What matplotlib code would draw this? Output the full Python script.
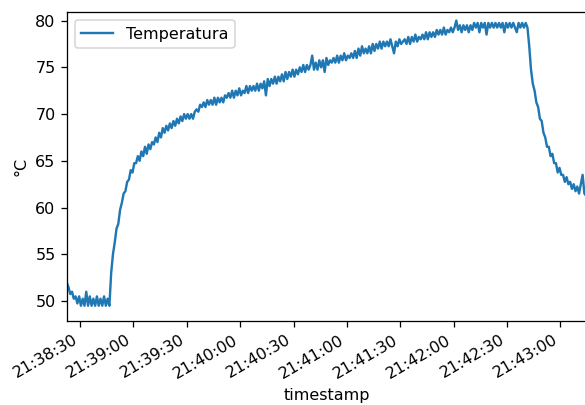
import numpy as np
import pandas as pd
import matplotlib
matplotlib.use("Agg")
import matplotlib.pyplot as plt
import matplotlib.dates as mdates

# temperature readings, one per second starting at 21:38:22.5
start = "2021-01-01 21:38:22.5"
temperatura = [
    # 0-24 idle
    52.0, 51.5, 50.75, 51.0, 50.25, 50.5, 49.75, 50.5, 49.5, 50.25,
    49.5, 51.0, 49.5, 50.5, 49.5, 50.25, 49.5, 50.5, 49.5, 50.25,
    49.5, 50.5, 49.5, 50.25, 49.5,
    # 25-80 heating
    53.0, 55.0, 56.25, 57.75, 58.25,
    59.75, 60.5, 61.5, 61.75, 62.75, 63.0, 64.0, 63.75, 64.75, 64.75,
    65.5, 65.0, 66.0, 65.5, 66.5, 65.75, 66.75, 66.25, 67.0, 66.75,
    67.5, 67.0, 68.0, 67.5, 68.5, 68.0, 68.75, 68.25, 69.0, 68.5,
    69.25, 68.75, 69.5, 69.0, 69.75, 69.25, 70.0, 69.5, 70.0, 69.5,
    70.0, 69.5, 70.25, 70.5, 70.25, 71.0, 70.75, 71.25, 70.75, 71.5, 71.0,
    # 81-259 slow rise / plateau
    71.5, 71.0, 71.75, 71.0, 71.75, 71.25, 71.75, 71.25, 72.0,
    71.75, 72.25, 71.75, 72.5, 71.75, 72.5, 72.0, 72.75, 72.0, 72.5,
    72.25, 73.0, 72.25, 73.0, 72.5, 73.0, 72.5, 73.25, 72.5, 73.25,
    72.75, 73.5, 72.0, 73.75, 73.0, 73.75, 73.25, 74.0, 73.25, 74.0,
    73.5, 74.25, 73.5, 74.5, 73.75, 74.5, 74.0, 74.75, 74.0, 74.75,
    74.25, 75.0, 74.5, 75.25, 74.5, 75.25, 74.75, 75.25, 76.25, 74.75,
    75.5, 74.75, 75.75, 75.0, 75.75, 74.5, 76.0, 75.25, 75.75, 75.5,
    76.0, 75.5, 76.25, 75.5, 76.25, 75.75, 76.5, 75.75, 76.25, 76.0,
    76.5, 76.0, 76.75, 76.0, 77.0, 76.25, 77.25, 76.5, 77.0, 76.5,
    77.25, 76.5, 77.5, 76.75, 77.5, 77.0, 77.75, 77.0, 77.75, 77.25,
    77.75, 77.25, 78.0, 77.25, 76.5, 77.75, 77.25, 78.0, 77.5, 77.75,
    78.0, 77.5, 78.25, 77.5, 78.25, 77.75, 78.5, 77.75, 78.25, 78.0,
    78.5, 78.0, 78.75, 78.0, 78.75, 78.25, 78.75, 78.25, 79.0, 78.5,
    79.0, 78.5, 79.25, 78.5, 79.0, 78.75, 79.25, 78.75, 79.25, 80.0,
    79.0, 79.5, 78.75, 79.5, 79.0, 79.5, 78.75, 79.5, 79.0, 79.75,
    79.25, 79.75, 78.75, 79.75, 79.25, 79.75, 78.5, 79.75, 79.25, 79.75,
    79.25, 79.75, 79.25, 79.75, 79.25, 79.75, 78.75, 79.75, 79.25, 79.75,
    79.25, 79.75, 79.25, 78.75, 79.75, 79.25, 79.75, 79.25, 79.75, 79.25,
    # 260-292 cooling
    77.25, 74.75, 73.25, 72.5, 71.25, 70.75, 69.5, 69.25, 68.0, 67.5,
    66.5, 66.5, 65.5, 65.75, 64.75, 64.75, 63.75, 64.25, 63.5, 63.5,
    62.75, 63.25, 62.5, 62.75, 62.0, 62.5, 61.75, 62.25, 61.5, 62.5,
    63.5, 61.5, 61.25,
]

df = pd.DataFrame({"Temperatura": temperatura},
                  index=pd.date_range(start, periods=len(temperatura), freq="1s"))
df.index.name = "timestamp"

dpi = 115
fig, ax = plt.subplots(figsize=(585 / dpi, 405 / dpi), dpi=dpi)
ax.plot(df.index, df["Temperatura"], color="#1f77b4", lw=1.5, label="Temperatura")

ax.set_xlim(df.index[0], df.index[-1])
ax.set_ylim(47.85, 80.9)
ax.set_yticks([50, 55, 60, 65, 70, 75, 80])
ax.xaxis.set_major_locator(mdates.SecondLocator(bysecond=[0, 30]))
ax.xaxis.set_major_formatter(mdates.DateFormatter("%H:%M:%S"))
ax.set_xlabel("timestamp")
ax.set_ylabel("°C")
ax.legend(loc="upper left")

fig.autofmt_xdate()
fig.subplots_adjust(left=0.114, right=1.002, top=0.97, bottom=0.207)
fig.savefig("out.png", dpi=dpi)
